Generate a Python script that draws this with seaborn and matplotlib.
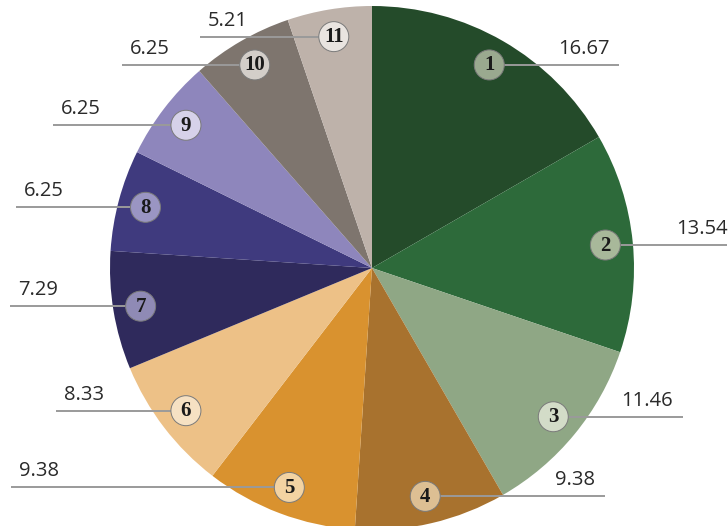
import numpy as np
import matplotlib.pyplot as plt
import seaborn as sns
from matplotlib.patches import Circle

# Data
values = [16.67, 13.54, 11.46, 9.38, 9.38, 8.33, 7.29, 6.25, 6.25, 6.25, 5.21]
numbers = ['1', '2', '3', '4', '5', '6', '7', '8', '9', '10', '11']
value_labels = ['16.67', '13.54', '11.46', '9.38', '9.38', '8.33', '7.29', '6.25', '6.25', '6.25', '5.21']

# Style
wedge_colors = ['#244b2a', '#2d6a3a', '#8fa785', '#a8722e', '#d9922f', '#edc187',
                '#2f2a5c', '#3f3a7e', '#8e86bc', '#7e756e', '#beb2aa']
badge_colors = ['#9aa98f', '#a8b89a', '#d3dcc8', '#ddbf93', '#f3d3a2', '#f6e1c3',
                '#8f8ab5', '#9a95c3', '#d6d2e9', '#d3cec9', '#e9e4e0']
line_len = [130, 122, 130, 180, 278, 130, 131, 130, 133, 133, 134]

sns.set_theme(style='white')
plt.rcParams['font.family'] = ['Open Sans', 'DejaVu Sans']

W, H = 728, 526
fig = plt.figure(figsize=(W / 100, H / 100), dpi=100)
ax = fig.add_axes([0, 0, 1, 1])

cx, cy, R = 372, H - 268, 262
wedges, _ = ax.pie(values, colors=wedge_colors, startangle=90, counterclock=False,
                   center=(cx, cy), radius=R, wedgeprops=dict(linewidth=0))

for i, w in enumerate(wedges):
    mid = np.deg2rad((w.theta1 + w.theta2) / 2)
    bx = cx + 0.895 * R * np.cos(mid)
    by = cy + 0.895 * R * np.sin(mid)
    if bx > cx:
        x0, x1 = bx, bx + line_len[i]
        # label hugs the right edge when the line runs off the figure
        tx = x1 - 10 if x1 < W - 10 else W
        x1 = min(x1, W)
        ax.text(tx, by + 6, value_labels[i], ha='right', va='bottom',
                fontsize=14.5, color='#2a2a2a', zorder=5)
    else:
        x0, x1 = bx - line_len[i], bx
        ax.text(x0 + 8, by + 6, value_labels[i], ha='left', va='bottom',
                fontsize=14.5, color='#2a2a2a', zorder=5)
    ax.plot([x0, x1], [by, by], color='#9a9a9a', lw=1.4, zorder=3,
            solid_capstyle='butt')
    ax.add_patch(Circle((bx, by), 15, facecolor=badge_colors[i],
                        edgecolor='#7a7a7a', lw=0.7, zorder=4))
    ax.text(bx, by - 0.5, numbers[i], ha='center', va='center', fontsize=15,
            fontweight='bold', family=['Liberation Serif', 'DejaVu Serif'],
            color='#1a1a1a', zorder=6)

ax.set_xlim(0, W)
ax.set_ylim(0, H)
ax.set_aspect('auto')
ax.axis('off')

fig.savefig('out.png', dpi=100)
